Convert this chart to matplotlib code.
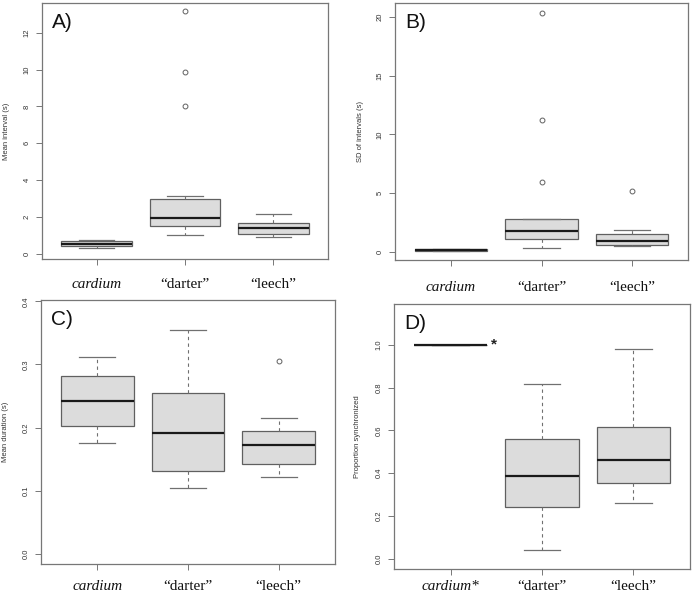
import numpy as np
import matplotlib.pyplot as plt
from matplotlib import rcParams
rcParams['font.family'] = 'Liberation Sans'

groups = ['cardium', '\u201cdarter\u201d', '\u201cleech\u201d']
groups_d = ['cardium*', '\u201cdarter\u201d', '\u201cleech\u201d']

# A) mean interval (s)
a_whislo = [0.31, 1.01, 0.88]
a_q1     = [0.40, 1.52, 1.06]
a_med    = [0.52, 1.95, 1.41]
a_q3     = [0.67, 2.96, 1.66]
a_whishi = [0.76, 3.14, 2.18]
a_fliers = [[], [8.05, 9.86, 13.16], []]

# B) SD of intervals (s)
b_whislo = [0.03, 0.31, 0.46]
b_q1     = [0.07, 1.08, 0.60]
b_med    = [0.12, 1.79, 0.94]
b_q3     = [0.20, 2.76, 1.51]
b_whishi = [0.25, 2.79, 1.85]
b_fliers = [[], [5.95, 11.24, 20.34], [5.18]]

# C) mean duration (s)
c_whislo = [0.175, 0.105, 0.121]
c_q1     = [0.203, 0.131, 0.142]
c_med    = [0.242, 0.191, 0.173]
c_q3     = [0.281, 0.255, 0.194]
c_whishi = [0.311, 0.354, 0.215]
c_fliers = [[], [], [0.306]]

# D) proportion synchronized
d_whislo = [1.0, 0.042, 0.262]
d_q1     = [1.0, 0.242, 0.354]
d_med    = [1.0, 0.388, 0.460]
d_q3     = [1.0, 0.562, 0.615]
d_whishi = [1.0, 0.817, 0.980]
d_fliers = [[], [], []]


def stats(lo, q1, med, q3, hi, fl):
    return [dict(whislo=lo[i], q1=q1[i], med=med[i], q3=q3[i], whishi=hi[i],
                 fliers=fl[i]) for i in range(len(lo))]


fig = plt.figure(figsize=(6.92, 5.93), dpi=100)
W, H = 692, 593

panels = [
    ('A)', (42, 3, 328, 259), stats(a_whislo, a_q1, a_med, a_q3, a_whishi, a_fliers),
     (-0.29, 13.62), np.arange(0, 13, 2), ['0', '2', '4', '6', '8', '10', '12'],
     'Mean interval (s)', groups, 35, 9.5),
    ('B)', (395, 3, 688, 260), stats(b_whislo, b_q1, b_med, b_q3, b_whishi, b_fliers),
     (-0.71, 21.2), np.arange(0, 21, 5), ['0', '5', '10', '15', '20'],
     'SD of intervals (s)', groups, 34, 11),
    ('C)', (41, 300, 335, 564), stats(c_whislo, c_q1, c_med, c_q3, c_whishi, c_fliers),
     (-0.016, 0.402), np.arange(0, 0.41, 0.1), ['0.0', '0.1', '0.2', '0.3', '0.4'],
     'Mean duration (s)', groups, 34.5, 7.5),
    ('D)', (394, 304, 690, 569), stats(d_whislo, d_q1, d_med, d_q3, d_whishi, d_fliers),
     (-0.047, 1.19), np.arange(0, 1.01, 0.2), ['0.0', '0.2', '0.4', '0.6', '0.8', '1.0'],
     'Proportion synchronized', groups_d, 36, 3.8),
]

edge = '#606060'
for letter, (x0, y0, x1, y1), st, ylim, yt, ytl, ylab, xl, lab_off, xpad in panels:
    ax = fig.add_axes([x0 / W, 1 - y1 / H, (x1 - x0) / W, (y1 - y0) / H])
    ax.bxp(st, positions=[1, 2, 3], widths=0.8, patch_artist=True,
           boxprops=dict(facecolor='#dcdcdc', edgecolor=edge, linewidth=0.9),
           whiskerprops=dict(color='#707070', linewidth=0.8, linestyle=(0, (3, 3))),
           capprops=dict(color='#707070', linewidth=0.9),
           medianprops=dict(color='#1a1a1a', linewidth=1.6),
           flierprops=dict(marker='o', markersize=3.5, markerfacecolor='none',
                           markeredgecolor='#606060', markeredgewidth=0.7))
    ax.set_xlim(0.38, 3.62)
    ax.set_ylim(*ylim)
    ax.set_xticks([1, 2, 3])
    ax.set_xticklabels(xl, fontsize=11, family='Liberation Serif', color='#111111')
    ax.get_xticklabels()[0].set_fontstyle('italic')
    ax.set_yticks(yt)
    ax.set_yticklabels(ytl, fontsize=5.5, rotation=90, va='center', color='#333333')
    ax.tick_params(axis='both', direction='out', length=4, width=0.7, color='#777777')
    ax.tick_params(axis='x', pad=xpad)
    ax.tick_params(axis='y', pad=4)
    for s in ax.spines.values():
        s.set_color('#777777')
        s.set_linewidth(0.9)
    ax.set_ylabel(ylab, fontsize=5.5, color='#333333')
    ax.yaxis.set_label_coords(-(lab_off - 3) / (x1 - x0), 0.5)
    ax.text(10 / (x1 - x0), 1 - 10 / (y1 - y0), letter, transform=ax.transAxes,
            ha='left', va='top', fontsize=15, color='#111111')
    if letter == 'D)':
        ax.text(1.44, 1.0, '*', ha='left', va='center', fontsize=11,
                fontweight='bold', color='#222222')

fig.savefig('out.png', dpi=100)
